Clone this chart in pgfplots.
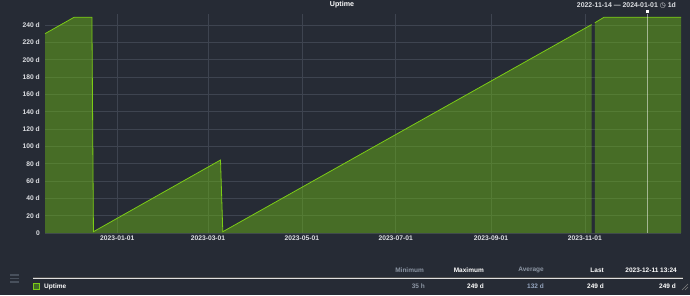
\documentclass[border=0pt]{standalone}
\usepackage{pgfplots}
\pgfplotsset{compat=1.18}
\usepackage{pgfplotstable}
\usepackage{fontspec}
\setmainfont{Liberation Sans}
\newfontfamily\symfont{DejaVu Sans}
\definecolor{bg}{RGB}{38,43,53}
\definecolor{gridc}{RGB}{62,68,80}
\definecolor{linegreen}{RGB}{124,204,22}
\definecolor{fillgreen}{RGB}{112,190,20}
\definecolor{legfill}{RGB}{66,107,38}
\definecolor{ticktext}{RGB}{222,224,228}
\definecolor{dimtext}{RGB}{140,150,164}
\definecolor{avgtext}{RGB}{150,166,192}
\definecolor{hamb}{RGB}{72,80,92}

% days counted from 2023-01-01
\pgfplotstableread{
day value
-47   230
-28   249
-16.5 249
-15.5 1.5
67.1  84.2
68.6  1.5
308.4 240.5
}\segA
\pgfplotstableread{
day value
310.5 242.6
316.5 249
366.5 249
}\segB

\begin{document}
\begin{tikzpicture}
\useasboundingbox (0pt,0pt) rectangle (690pt,295pt);
\fill[bg] (0pt,0pt) rectangle (690pt,295pt);
\begin{axis}[
  at={(45pt,62pt)}, anchor=south west,
  scale only axis, width=636pt, height=219pt,
  xmin=-47, xmax=366.5, ymin=0, ymax=252.7,
  axis line style={draw=none},
  major tick length=0pt,
  grid=major,
  major grid style={draw=gridc, line width=0.6pt},
  xtick={0,59,120,181,243,304},
  xticklabels={2023-01-01,2023-03-01,2023-05-01,2023-07-01,2023-09-01,2023-11-01},
  ytick={0,20,...,240},
  yticklabels={0,20 d,40 d,60 d,80 d,100 d,120 d,140 d,160 d,180 d,200 d,220 d,240 d},
  ticklabel style={font=\bfseries\fontsize{6.7}{8}\selectfont, text=ticktext},
  yticklabel style={inner sep=0pt, xshift=-5pt},
  xticklabel style={inner sep=0pt, yshift=-3pt},
  clip=false,
]
\addplot[draw=none, fill=fillgreen, fill opacity=0.45] table[x=day,y=value] {\segA} \closedcycle;
\addplot[draw=none, fill=fillgreen, fill opacity=0.45] table[x=day,y=value] {\segB} \closedcycle;
\addplot[draw=linegreen, line width=0.8pt] table[x=day,y=value] {\segA};
\addplot[draw=linegreen, line width=0.8pt] table[x=day,y=value] {\segB};
% current-time marker 2023-12-11 13:24
\addplot[draw=white, draw opacity=0.5, line width=0.9pt] coordinates {(344.56,0) (344.56,252.7)};
\addplot[only marks, mark=square*, mark size=1.1pt, mark options={fill=white, draw=white}] coordinates {(344.56,255.5)};
\end{axis}
% titles
\node[text=white, font=\bfseries\fontsize{7.1}{8}\selectfont] at (342pt,290pt) {Uptime};
\node[anchor=east, inner sep=0pt, text=ticktext, font=\bfseries\fontsize{6.9}{8}\selectfont] at (676pt,290pt) {2022-11-14 — 2024-01-01 {\symfont ◷} 1d};
% legend
\foreach \yy in {20,16.5,13} \draw[hamb, line width=1.4pt] (10pt,\yy pt) -- (19pt,\yy pt);
\draw[black!70, line width=0.6pt] (33pt,17.8pt) -- (683pt,17.8pt);
\draw[white!75!gray, line width=1.2pt] (33pt,16.7pt) -- (683pt,16.7pt);
\filldraw[fill=legfill, draw=linegreen, line width=0.8pt] (33.5pt,5.5pt) rectangle (39.5pt,11.5pt);
\node[anchor=west, inner sep=0pt, text=white, font=\bfseries\fontsize{6.5}{8}\selectfont] at (44pt,8.5pt) {Uptime};
\begin{scope}[every node/.style={anchor=east, inner sep=0pt, font=\bfseries\fontsize{6.5}{8}\selectfont}]
\node[text=dimtext] at (424pt,25pt) {Minimum};
\node[text=white] at (484pt,25pt) {Maximum};
\node[text=dimtext] at (544pt,25pt) {Average};
\node[text=white] at (604pt,25pt) {Last};
\node[text=white] at (677pt,25pt) {2023-12-11 13:24};
\node[text=dimtext] at (425pt,8.5pt) {35 h};
\node[text=white] at (484pt,8.5pt) {249 d};
\node[text=avgtext] at (544pt,8.5pt) {132 d};
\node[text=white] at (604pt,8.5pt) {249 d};
\node[text=white] at (676pt,8.5pt) {249 d};
\end{scope}
\draw[gray, line width=0.4pt] (682pt,5pt) -- (688pt,11pt) (685pt,5pt) -- (688pt,8pt);
\end{tikzpicture}
\end{document}
